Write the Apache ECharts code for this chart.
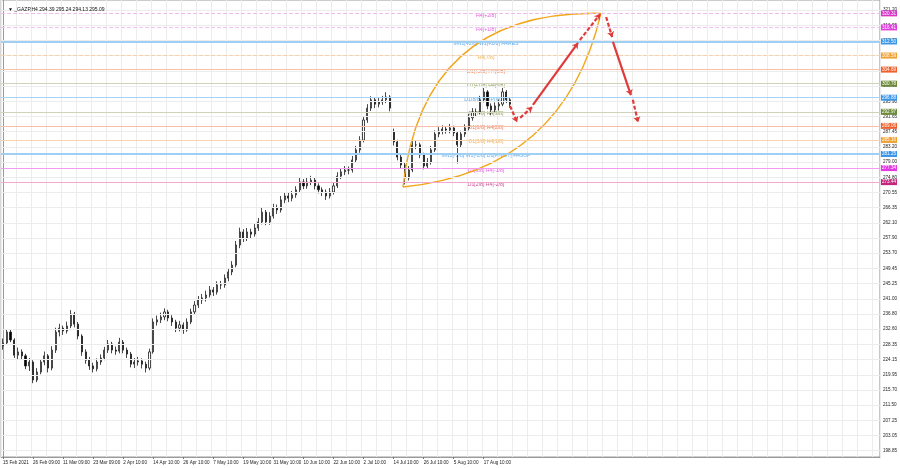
<!DOCTYPE html>
<html><head><meta charset="utf-8">
<script src="https://cdn.jsdelivr.net/npm/echarts@6/dist/echarts.min.js"></script>
<style>html,body{margin:0;padding:0;background:#fff}#c{width:900px;height:468px}</style>
</head><body><div id="c"></div>
<script>
// ---- data ----
const titleText = '\u25BC _GAZP,H4 294.39 295.24 294.13 295.09';
const timeLabels = ['15 Feb 2021','26 Feb 09:00','11 Mar 09:00','23 Mar 09:00','2 Apr 10:00','14 Apr 10:00','26 Apr 10:00','7 May 10:00','19 May 10:00','31 May 10:00','10 Jun 10:00','22 Jun 10:00','2 Jul 10:00','14 Jul 10:00','26 Jul 10:00','5 Aug 10:00','17 Aug 10:00'];
const labelEvery = 8;
const slotCount = 234;
const open = [227.9,228.8,231.8,229.6,225.4,226.3,225.2,222.4,223.5,218.5,
220.7,223.5,225.2,221.8,226.8,231.8,232.9,232.1,233.5,236.8,
234.0,230.7,226.3,224.0,222.4,221.6,223.5,224.6,226.8,228.5,
226.8,226.5,229.0,226.8,225.7,222.9,223.5,223.8,222.9,221.8,
226.3,234.6,235.2,236.0,237.4,235.7,234.6,232.9,233.8,232.4,
234.6,237.4,239.3,240.7,241.3,242.1,243.5,242.9,244.9,244.9,
246.8,248.5,250.4,256.0,259.6,257.9,259.6,259.0,260.7,262.4,
265.1,262.4,264.0,266.3,265.7,268.5,269.6,269.0,269.9,271.3,
273.5,272.4,273.5,274.0,272.4,271.3,270.7,269.6,270.7,272.4,
275.1,276.3,276.8,276.8,279.6,282.4,285.1,290.7,294.0,296.3,
295.1,295.7,296.3,297.1,287.5,284.6,280.4,278.2,274.6,276.8,
283.8,283.8,281.0,277.9,279.0,282.4,286.8,287.6,288.2,287.9,
288.5,287.1,283.8,286.8,288.5,291.3,292.9,292.9,296.3,298.5,
294.6,293.5,294.6,295.1,298.5,296.3];
const close = [228.8,231.8,229.6,225.4,226.3,225.2,222.4,223.5,218.5,220.7,
223.5,225.2,221.8,226.8,231.8,232.9,232.1,233.5,236.8,234.0,
230.7,226.3,224.0,222.4,221.6,223.5,224.6,226.8,228.5,226.8,
226.5,229.0,226.8,225.7,222.9,223.5,223.8,222.9,221.8,226.3,
234.6,235.2,236.0,237.4,235.7,234.6,232.9,233.8,232.4,234.6,
237.4,239.3,240.7,241.3,242.1,243.5,242.9,244.9,244.9,246.8,
248.5,250.4,256.0,259.6,257.9,259.6,259.0,260.7,262.4,265.1,
262.4,264.0,266.3,265.7,268.5,269.6,269.0,269.9,271.3,273.5,
272.4,273.5,274.0,272.4,271.3,270.7,269.6,270.7,272.4,275.1,
276.3,276.8,276.8,279.6,282.4,285.1,290.7,294.0,296.3,295.1,
295.7,296.3,297.1,294.0,284.6,280.4,278.2,274.6,276.8,283.8,
283.8,281.0,277.9,279.0,282.4,286.8,287.6,288.2,287.9,288.5,
287.1,283.8,286.8,288.5,291.3,292.9,292.9,296.3,298.5,294.6,
293.5,294.6,295.1,298.5,296.3,295.09];
const low = [226.9,228.2,229.0,224.6,224.3,224.1,221.5,221.0,217.6,217.9,
220.1,222.6,220.6,221.2,226.0,230.6,231.0,231.4,232.9,233.1,
229.8,225.2,223.0,221.3,220.6,220.9,222.7,224.0,226.0,225.9,
225.5,225.9,225.9,224.6,222.0,221.8,222.5,221.7,220.6,221.2,
225.8,233.6,234.3,235.1,234.8,233.5,231.8,232.0,231.3,231.9,
234.0,236.6,238.5,239.6,240.3,241.4,241.8,242.2,243.7,244.1,
245.9,247.6,249.8,255.1,256.8,257.1,257.9,258.3,259.9,261.7,
261.5,261.6,263.3,264.6,265.0,267.6,267.9,268.1,269.1,270.6,
271.5,271.6,272.6,271.4,270.3,269.6,268.5,268.9,270.0,271.8,
274.3,275.4,275.6,276.1,278.8,281.6,284.5,289.9,293.2,294.0,
294.2,294.9,295.4,293.1,283.6,279.5,277.2,272.8,273.9,276.2,
282.6,280.1,277.0,277.1,278.3,281.8,285.9,286.7,286.9,287.0,
286.2,278.6,283.0,286.0,287.8,290.5,291.8,292.3,295.6,293.7,
292.0,292.6,293.3,294.5,295.4,294.1];
const high = [230.0,232.6,232.4,230.1,227.5,227.0,225.8,224.6,224.0,221.8,
224.3,226.4,225.7,227.9,233.0,234.1,233.6,234.7,237.9,237.4,
234.6,231.2,227.0,224.9,223.3,224.5,225.6,227.7,229.6,229.1,
227.8,230.2,229.6,227.5,226.3,224.6,224.9,224.5,223.6,227.2,
235.6,236.4,237.2,238.4,238.0,236.5,235.2,234.9,234.5,235.6,
238.3,240.4,241.8,242.4,243.3,244.6,244.3,245.9,246.0,247.8,
249.6,251.5,257.1,260.8,260.4,260.7,260.5,261.8,263.5,266.3,
265.7,265.1,267.4,267.2,269.6,270.7,270.5,271.0,272.3,274.6,
274.3,274.6,275.2,274.7,273.1,272.0,271.4,271.8,273.4,276.2,
277.3,277.9,277.8,280.7,283.5,286.2,291.8,295.1,297.3,297.0,
296.8,297.4,298.4,297.6,288.3,285.2,281.0,278.8,277.9,285.0,
285.1,284.4,281.6,280.1,283.5,287.8,288.7,289.2,289.0,289.6,
289.1,287.6,287.7,289.5,292.4,294.0,293.9,297.4,299.6,299.0,
295.3,295.6,296.4,299.6,299.0,296.9];
const priceTicks = [321.20,316.95,312.75,308.55,304.30,300.10,295.90,291.65,287.45,283.20,279.00,274.80,270.55,266.35,262.10,257.90,253.70,249.45,245.25,241.00,236.80,232.60,228.35,224.15,219.95,215.70,211.50,207.25,203.05,198.85];
const priceMin = 197.11, priceMax = 324.02;
const levelPrices = [320.31,316.41,312.50,308.59,304.69,300.78,296.88,292.97,289.06,285.16,281.25,277.34,273.44];
const levelNames = ['H4[+2/8]','H4[+1/8]','MN1[+2/8] W1[+2/8] H4RES','H4[7/8]','D1[+2/8] H4[6/8]','D1[+1/8] H4[5/8]','D1[8/8] H4[PIVOT]','D1[7/8] H4[3/8]','D1[6/8] H4[2/8]','D1[5/8] H4[1/8]','MN1[-1/8] W1[-1/8] D1[PIVOT] H4SUP','D1[3/8] H4[-1/8]','D1[2/8] H4[-2/8]'];
const levelColors = ['#d633c8','#e23ae0','#3a96e6','#f0a030','#f0602e','#6b8a35','#3a96e6','#6b8a35','#f0602e','#f0a030','#3a96e6','#e23ae0','#c4267e'];
const levelLineColors = ['#eebbee','#eec4f2','#9fd0f4','#f8cfa8','#f8c0aa','#d2d2bc','#a8d4f4','#d2d2bc','#f8c0aa','#f8d4ae','#9fd0f4','#f29af0','#f2a8cc'];
const levelDashed = [true,true,false,true,false,false,false,false,false,false,false,false,false];
const levelWidths = [1,1,2,1,1,1,1,1,1,1,2,1,1];
const lastPrice = 295.09;
const labelSlot = 128.6;
const arcStart = [106.5, 272.09], arcEnd = [159.2, 320.31];
const arcCtrlUpper = [111.8, 321.24], arcCtrlLower = [149.4, 276.64];
const arrowSegs = [
  {from:[135.0,294.6], to:[136.9,290.1], dashed:true},
  {from:[137.7,291.3], to:[140.9,294.3], dashed:true},
  {from:[141.1,294.9], to:[153.1,312.1], dashed:false},
  {from:[153.6,312.9], to:[159.0,320.1], dashed:true},
  {from:[160.6,319.3], to:[162.2,313.7], dashed:true},
  {from:[162.4,312.4], to:[167.2,297.6], dashed:false},
  {from:[167.7,296.3], to:[169.1,290.1], dashed:true}
];

// ---- chart ----
const FONT = 'Liberation Sans';
const categories = Array.from({length: slotCount}, (_, i) => String(i));
const candles = open.map((o, i) => [o, close[i], low[i], high[i]]);
const isLabelIdx = (i) => i % labelEvery === 0 && (i / labelEvery) < timeLabels.length;

const chart = echarts.init(document.getElementById('c'), null, {renderer: 'canvas'});
chart.setOption({
  animation: false,
  backgroundColor: '#ffffff',
  textStyle: {fontFamily: FONT},
  title: {text: titleText, left: 3, top: 2, textStyle: {fontSize: 5, fontWeight: 'normal', color: '#111', fontFamily: FONT}},
  grid: {left: 1, right: 20, top: 0, bottom: 11, show: true, borderColor: '#9a9a9a', borderWidth: 1, backgroundColor: '#fff'},
  xAxis: [
    {type: 'category', data: categories, boundaryGap: true,
      axisLine: {show: true, lineStyle: {color: '#9a9a9a'}},
      axisTick: {show: true, alignWithLabel: true, interval: (i) => isLabelIdx(i), length: 2, lineStyle: {color: '#777'}},
      axisLabel: {show: true, interval: (i) => isLabelIdx(i), formatter: (v, i) => timeLabels[Math.round(i / labelEvery)] || '',
        align: 'left', fontSize: 4.6, color: '#222', margin: 3, fontFamily: FONT},
      splitLine: {show: true, interval: (i) => i % 4 === 0, lineStyle: {color: '#ececec', width: 1}}},
    {type: 'value', min: -0.5, max: slotCount - 0.5, show: false, gridIndex: 0}
  ],
  yAxis: {type: 'value', position: 'right', min: priceMin, max: priceMax,
    axisLine: {show: true, lineStyle: {color: '#9a9a9a'}},
    axisTick: {show: true, customValues: priceTicks, length: 2, lineStyle: {color: '#777'}},
    axisLabel: {show: true, customValues: priceTicks, formatter: (v) => v.toFixed(2), fontSize: 4.6, color: '#222', margin: 3, fontFamily: FONT},
    splitLine: {show: false}},
  series: [
    {name: 'grid', type: 'line', data: [], z: 0, silent: true,
      markLine: {silent: true, symbol: ['none','none'], animation: false, label: {show: false},
        lineStyle: {color: '#ececec', width: 1, type: 'solid'},
        data: priceTicks.map(v => ({yAxis: v}))}},
    {name: 'levels', type: 'line', data: [], z: 1, silent: true,
      markLine: {silent: true, symbol: ['none','none'], animation: false,
        data: levelPrices.map((v, i) => ({yAxis: v,
          lineStyle: {color: levelLineColors[i], width: levelWidths[i], type: levelDashed[i] ? [4, 2] : 'solid'},
          label: {show: true, position: 'end', formatter: v.toFixed(2), backgroundColor: levelColors[i], color: '#fff',
            fontSize: 4.6, padding: [1, 1, 0, 1], distance: 1, fontFamily: FONT}}))
          .concat([{yAxis: lastPrice, lineStyle: {width: 0, opacity: 0},
            label: {show: true, position: 'end', formatter: lastPrice.toFixed(2), backgroundColor: '#111', color: '#fff',
              fontSize: 4.6, padding: [1, 1, 0, 1], distance: 1, fontFamily: FONT}}])}},
    {name: 'levelText', type: 'scatter', xAxisIndex: 1, symbolSize: 0, z: 2, silent: true,
      data: levelPrices.map((v, i) => ({value: [labelSlot, v],
        label: {show: true, position: 'inside', offset: [0, 2], formatter: levelNames[i], color: levelColors[i], fontSize: 5.2, fontFamily: FONT}}))},
    {name: 'GAZP', type: 'candlestick', data: candles, z: 3, barWidth: 1.6,
      itemStyle: {color: '#ffffff', color0: '#000000', borderColor: '#1a1a1a', borderColor0: '#1a1a1a', borderWidth: 0.8}},
    {name: 'arcs', type: 'custom', xAxisIndex: 1, z: 4, silent: true, data: [[arcStart[0], arcStart[1]]],
      renderItem: (params, api) => {
        const s = api.coord(arcStart), e = api.coord(arcEnd), cu = api.coord(arcCtrlUpper), cl = api.coord(arcCtrlLower);
        const st = {stroke: '#f2a61a', fill: null, lineWidth: 1.4};
        return {type: 'group', children: [
          {type: 'bezierCurve', shape: {x1: s[0], y1: s[1], x2: e[0], y2: e[1], cpx1: cu[0], cpy1: cu[1]}, style: st},
          {type: 'bezierCurve', shape: {x1: s[0], y1: s[1], x2: e[0], y2: e[1], cpx1: cl[0], cpy1: cl[1]}, style: st}
        ]};
      }},
    {name: 'arrows', type: 'lines', coordinateSystem: 'cartesian2d', xAxisIndex: 1, z: 5, silent: true,
      symbol: ['none', 'arrow'], symbolSize: 5.5,
      lineStyle: {color: '#e03a3a', width: 2.2, opacity: 1},
      data: arrowSegs.map(s => ({coords: [s.from, s.to], lineStyle: {type: s.dashed ? [4, 2] : 'solid', color: '#e03a3a', width: 2.2}}))}
  ]
});
</script></body></html>
